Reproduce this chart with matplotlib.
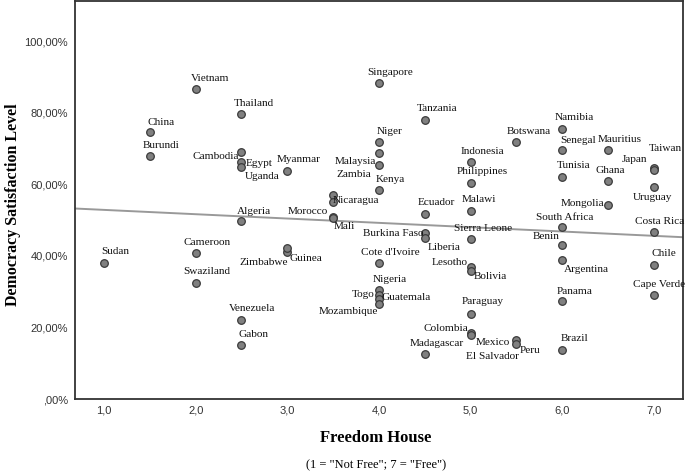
import matplotlib
matplotlib.use('Agg')
import matplotlib.pyplot as plt
import numpy as np

# data
countries = ['Vietnam', 'Thailand', 'China', 'Burundi', 'Cambodia', 'Egypt', 'Uganda',
             'Myanmar', 'Algeria', 'Sudan', 'Cameroon', 'Swaziland', 'Zimbabwe', 'Guinea',
             'Venezuela', 'Gabon', 'Singapore', 'Tanzania', 'Niger', '', 'Malaysia', 'Kenya',
             'Zambia', 'Nicaragua', 'Morocco', 'Mali', 'Ecuador', 'Malawi', 'Burkina Faso',
             'Liberia', 'Sierra Leone', "Cote d'Ivoire", 'Lesotho', 'Bolivia', 'Nigeria',
             'Togo', 'Guatemala', 'Mozambique', 'Paraguay', 'Colombia', 'Mexico', 'Peru',
             'El Salvador', 'Madagascar', 'Indonesia', 'Philippines', 'Botswana', 'Namibia',
             'Senegal', 'Tunisia', 'Mauritius', 'Ghana', 'Japan', 'Taiwan', 'Uruguay',
             'Mongolia', 'South Africa', 'Costa Rica', 'Benin', 'Argentina', 'Chile',
             'Cape Verde', 'Panama', 'Brazil']
freedom = [2.0, 2.5, 1.5, 1.5, 2.5, 2.5, 2.5,
           3.0, 2.5, 1.0, 2.0, 2.0, 3.0, 3.0,
           2.5, 2.5, 4.0, 4.5, 4.0, 4.0, 4.0, 4.0,
           3.5, 3.5, 3.5, 3.5, 4.5, 5.0, 4.5,
           4.5, 5.0, 4.0, 5.0, 5.0, 4.0,
           4.0, 4.0, 4.0, 5.0, 5.0, 5.0, 5.5,
           5.5, 4.5, 5.0, 5.0, 5.5, 6.0,
           6.0, 6.0, 6.5, 6.5, 7.0, 7.0, 7.0,
           6.5, 6.0, 7.0, 6.0, 6.0, 7.0,
           7.0, 6.0, 6.0]
satisfaction = [86.6, 79.6, 74.6, 67.9, 69.1, 66.2, 65.0,
                63.7, 49.7, 38.1, 40.8, 32.5, 41.0, 42.3,
                22.2, 15.0, 88.4, 77.9, 71.8, 68.9, 65.5, 58.5,
                57.0, 55.2, 50.9, 50.7, 51.8, 52.6, 46.4,
                45.1, 44.7, 38.0, 36.8, 35.7, 30.6,
                29.0, 28.0, 26.7, 23.9, 18.5, 17.8, 16.4,
                15.5, 12.6, 66.2, 60.5, 71.9, 75.4,
                69.5, 62.2, 69.5, 61.1, 64.7, 64.1, 59.4,
                54.2, 48.0, 46.8, 43.2, 38.9, 37.6,
                29.0, 27.3, 13.7]

# fit line
fit_intercept = 54.1
fit_slope = -1.21

y_ticks = [0, 20, 40, 60, 80, 100]
y_ticklabels = [',00%', '20,00%', '40,00%', '60,00%', '80,00%', '100,00%']
x_ticks = [1, 2, 3, 4, 5, 6, 7]
x_ticklabels = ['1,0', '2,0', '3,0', '4,0', '5,0', '6,0', '7,0']

# label placement (pixels from point to label centre)
label_offsets = {
    'Vietnam': (14, 11), 'Thailand': (12, 11), 'China': (11, 10), 'Burundi': (11, 11),
    'Cambodia': (-26, -5), 'Egypt': (18, -1), 'Uganda': (21, -10), 'Myanmar': (11, 12),
    'Algeria': (12, 10), 'Sudan': (11, 11), 'Cameroon': (11, 11), 'Swaziland': (11, 11),
    'Zimbabwe': (-24, -10), 'Guinea': (19, -11), 'Venezuela': (11, 11), 'Gabon': (12, 11),
    'Singapore': (11, 10), 'Tanzania': (12, 12), 'Niger': (11, 11), 'Malaysia': (-24, 3),
    'Kenya': (11, 10), 'Zambia': (21, 21), 'Nicaragua': (23, 1), 'Morocco': (-25, 5),
    'Mali': (11, -9), 'Ecuador': (12, 11), 'Malawi': (8, 11), 'Burkina Faso': (-32, 0),
    'Liberia': (19, -10), 'Sierra Leone': (12, 11), "Cote d'Ivoire": (11, 11),
    'Lesotho': (-21, 5), 'Bolivia': (20, -5), 'Nigeria': (11, 10), 'Togo': (-16, 1),
    'Guatemala': (27, 1), 'Mozambique': (-31, -8), 'Paraguay': (12, 12),
    'Colombia': (-25, 4), 'Mexico': (22, -7), 'Peru': (14, -10), 'El Salvador': (-24, -13),
    'Madagascar': (12, 10), 'Indonesia': (12, 11), 'Philippines': (12, 11),
    'Botswana': (12, 10), 'Namibia': (12, 12), 'Senegal': (16, 10), 'Tunisia': (11, 11),
    'Mauritius': (12, 11), 'Ghana': (2, 10), 'Japan': (-19, 8), 'Taiwan': (11, 21),
    'Uruguay': (-1, -11), 'Mongolia': (-26, 2), 'South Africa': (2, 10),
    'Costa Rica': (6, 10), 'Benin': (-16, 8), 'Argentina': (24, -10), 'Chile': (10, 11),
    'Cape Verde': (5, 11), 'Panama': (12, 10), 'Brazil': (12, 12),
}

fig = plt.figure(figsize=(6.85, 4.73), dpi=100)
ax = fig.add_axes([0.1095, 0.1564, 0.8875, 0.8415])

xlim = (0.684, 7.316)
ax.set_xlim(xlim)
ax.set_ylim(0, 111.3)

xs = np.array(xlim)
ax.plot(xs, fit_intercept + fit_slope * xs, color='#999999', lw=1.4, zorder=2)

ax.scatter(freedom, satisfaction, s=30, facecolor='#808080', edgecolor='#3a3a3a',
           linewidth=0.9, zorder=3)

for name, fx, sy in zip(countries, freedom, satisfaction):
    if not name:
        continue
    dx, dy = label_offsets.get(name, (11, 10))
    ax.annotate(name, (fx, sy), xytext=(dx, dy), textcoords='offset pixels',
                ha='center', va='center', fontsize=8.1, family='Liberation Serif',
                color='#111111', zorder=4)

ax.set_yticks(y_ticks)
ax.set_yticklabels(y_ticklabels)
ax.set_xticks(x_ticks)
ax.set_xticklabels(x_ticklabels)
ax.tick_params(length=0, labelsize=8, colors='#333333', pad=5)
for lab in ax.get_xticklabels() + ax.get_yticklabels():
    lab.set_family('Liberation Sans')

for sp in ax.spines.values():
    sp.set_color('#333333')
    sp.set_linewidth(1.3)

fig.text(13 / 685, 1 - 205 / 473, 'Democracy Satisfaction Level', family='Liberation Serif',
         fontweight='bold', fontsize=11.5, rotation=90, ha='center', va='center')
fig.text(0.549, 1 - 438 / 473, 'Freedom House', family='Liberation Serif',
         fontweight='bold', fontsize=12, ha='center', va='center')
fig.text(0.549, 1 - 465 / 473, '(1 = "Not Free"; 7 = "Free")', family='Liberation Serif',
         fontsize=9, ha='center', va='center')

fig.savefig('out.png', dpi=100)
